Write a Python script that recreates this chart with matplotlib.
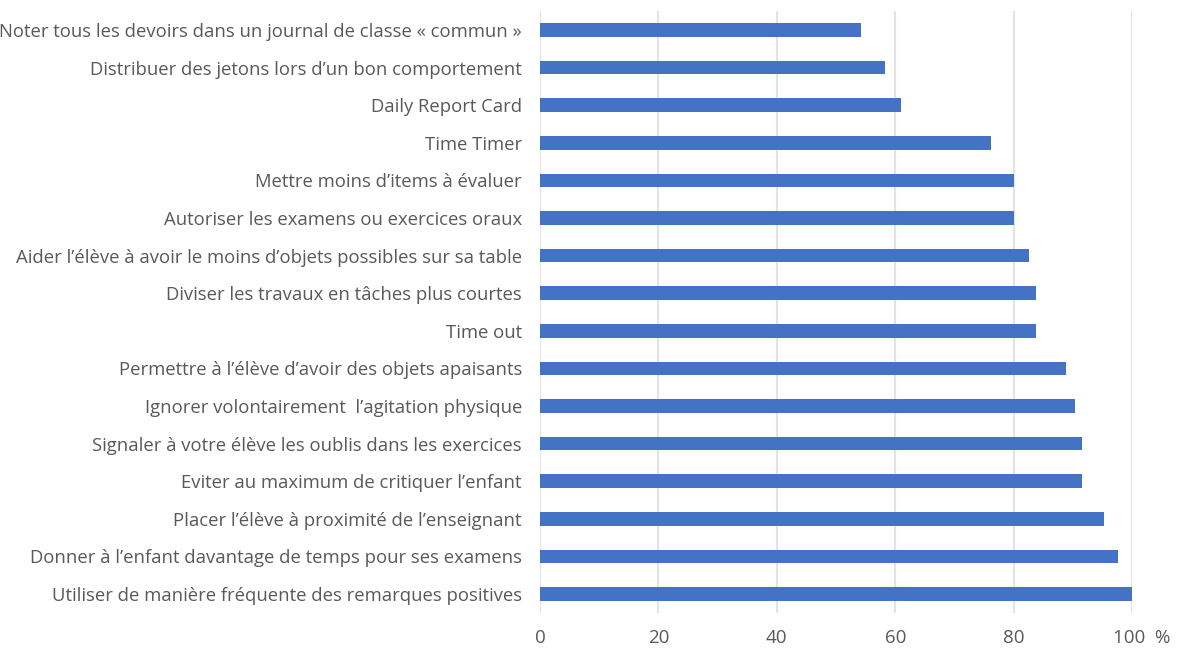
import matplotlib
matplotlib.use("Agg")
import matplotlib.pyplot as plt
from matplotlib.transforms import ScaledTranslation

categories = [
    "Noter tous les devoirs dans un journal de classe « commun »",
    "Distribuer des jetons lors d’un bon comportement",
    "Daily Report Card",
    "Time Timer",
    "Mettre moins d’items à évaluer",
    "Autoriser les examens ou exercices oraux",
    "Aider l’élève à avoir le moins d’objets possibles sur sa table",
    "Diviser les travaux en tâches plus courtes",
    "Time out",
    "Permettre à l’élève d’avoir des objets apaisants",
    "Ignorer volontairement  l’agitation physique",
    "Signaler à votre élève les oublis dans les exercices",
    "Eviter au maximum de critiquer l’enfant",
    "Placer l’élève à proximité de l’enseignant",
    "Donner à l’enfant davantage de temps pour ses examens",
    "Utiliser de manière fréquente des remarques positives",
]
values = [54.3, 58.2, 61.0, 76.1, 80.0, 80.0, 82.6, 83.8, 83.8, 88.8,
          90.4, 91.5, 91.5, 95.3, 97.7, 100.0]
xticks = [0, 20, 40, 60, 80, 100]
xticklabels = ["0", "20", "40", "60", "80", "100  %"]

plt.rcParams['font.family'] = ['Open Sans', 'DejaVu Sans']

fig = plt.figure(figsize=(11.77, 6.48), dpi=100)
ax = fig.add_axes([0.4588, 0.0543, 0.9618 - 0.4588, 0.9827 - 0.0543])

pos = list(range(len(categories)))
ax.barh(pos, values, height=0.36, color="#4472C4", zorder=3)
ax.set_ylim(len(categories) - 0.5, -0.5)
ax.set_xlim(0, 100)
ax.set_yticks(pos)
ax.set_yticklabels(categories, fontsize=13.3, color="#595959")
ax.set_xticks(xticks)
ax.set_xticklabels(xticklabels, fontsize=13.5, color="#595959")
ax.tick_params(axis='both', length=0)
ax.tick_params(axis='y', pad=13)
ax.tick_params(axis='x', pad=12)
lbl = ax.get_xticklabels()[-1]
lbl.set_horizontalalignment('left')
lbl.set_transform(lbl.get_transform() + ScaledTranslation(-14/72, 0, fig.dpi_scale_trans))
ax.grid(axis='x', color="#e3e3e3", linewidth=1.5, zorder=0)
for s in ax.spines.values():
    s.set_visible(False)

fig.savefig("out.png", dpi=100)
